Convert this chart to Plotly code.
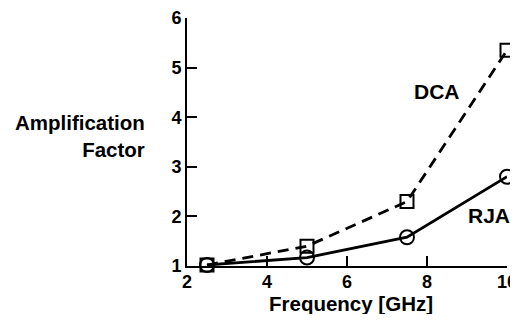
import plotly.graph_objects as go

freq = [2.5, 5, 7.5, 10]
dca = [1.02, 1.40, 2.30, 5.35]
rja = [1.02, 1.17, 1.58, 2.80]
x_ticks = [2, 4, 6, 8, 10]
y_ticks = [1, 2, 3, 4, 5, 6]

font = "Liberation Sans, Arial, sans-serif"
fs_title = 20.5
fs_tick = 18
fs_label = 21

fig = go.Figure()
fig.add_trace(go.Scatter(
    x=freq, y=dca, mode="lines+markers", name="DCA",
    line=dict(color="black", width=2.8, dash="11px,7px"),
    marker=dict(symbol="square-open", size=13, color="black", line=dict(width=2)),
    cliponaxis=False,
))
fig.add_trace(go.Scatter(
    x=freq, y=rja, mode="lines+markers", name="RJA",
    line=dict(color="black", width=2.8),
    marker=dict(symbol="circle-open", size=14, color="black", line=dict(width=2)),
    cliponaxis=False,
))

fig.add_annotation(x=8.25, y=4.52, text="<b>DCA</b>", showarrow=False,
                   font=dict(family=font, size=fs_label, color="black"))
fig.add_annotation(x=9.55, y=2.02, text="<b>RJA</b>", showarrow=False,
                   font=dict(family=font, size=fs_label, color="black"))
fig.add_annotation(xref="paper", yref="paper", x=-0.125, y=0.524,
                   xanchor="right", yanchor="middle", align="right",
                   text="<b>Amplification</b><br><b>Factor</b>", showarrow=False,
                   font=dict(family=font, size=fs_title, color="black"))
fig.add_annotation(xref="paper", yref="paper", x=0.514, y=-0.15,
                   xanchor="center", yanchor="middle",
                   text="<b>Frequency [GHz]</b>", showarrow=False,
                   font=dict(family=font, size=fs_title, color="black"))

# page body has an 8px margin: figure sized so the page does not overflow
fig.update_layout(
    width=510, height=306,
    margin=dict(l=179, r=11, t=10, b=48, autoexpand=False),
    paper_bgcolor="white", plot_bgcolor="white",
    showlegend=False,
    font=dict(family=font, size=fs_tick, color="black"),
    xaxis=dict(
        range=[2, 10], tickvals=x_ticks, ticktext=[f"<b>{v}</b>" for v in x_ticks],
        showgrid=False, zeroline=False, showline=True, linecolor="black", linewidth=2,
        ticks="inside", ticklen=10, tickwidth=2, tickcolor="black",
        tickfont=dict(family=font, size=fs_tick), automargin=False,
        ticklabeloverflow="allow", ticklabelstandoff=-2,
    ),
    yaxis=dict(
        range=[1, 6], tickvals=y_ticks, ticktext=[f"<b>{v}</b>" for v in y_ticks],
        showgrid=False, zeroline=False, showline=True, linecolor="black", linewidth=2,
        ticks="inside", ticklen=10, tickwidth=2, tickcolor="black",
        tickfont=dict(family=font, size=fs_tick), automargin=False,
        ticklabeloverflow="allow", ticklabelstandoff=0,
    ),
)

fig.write_html("out.html")
